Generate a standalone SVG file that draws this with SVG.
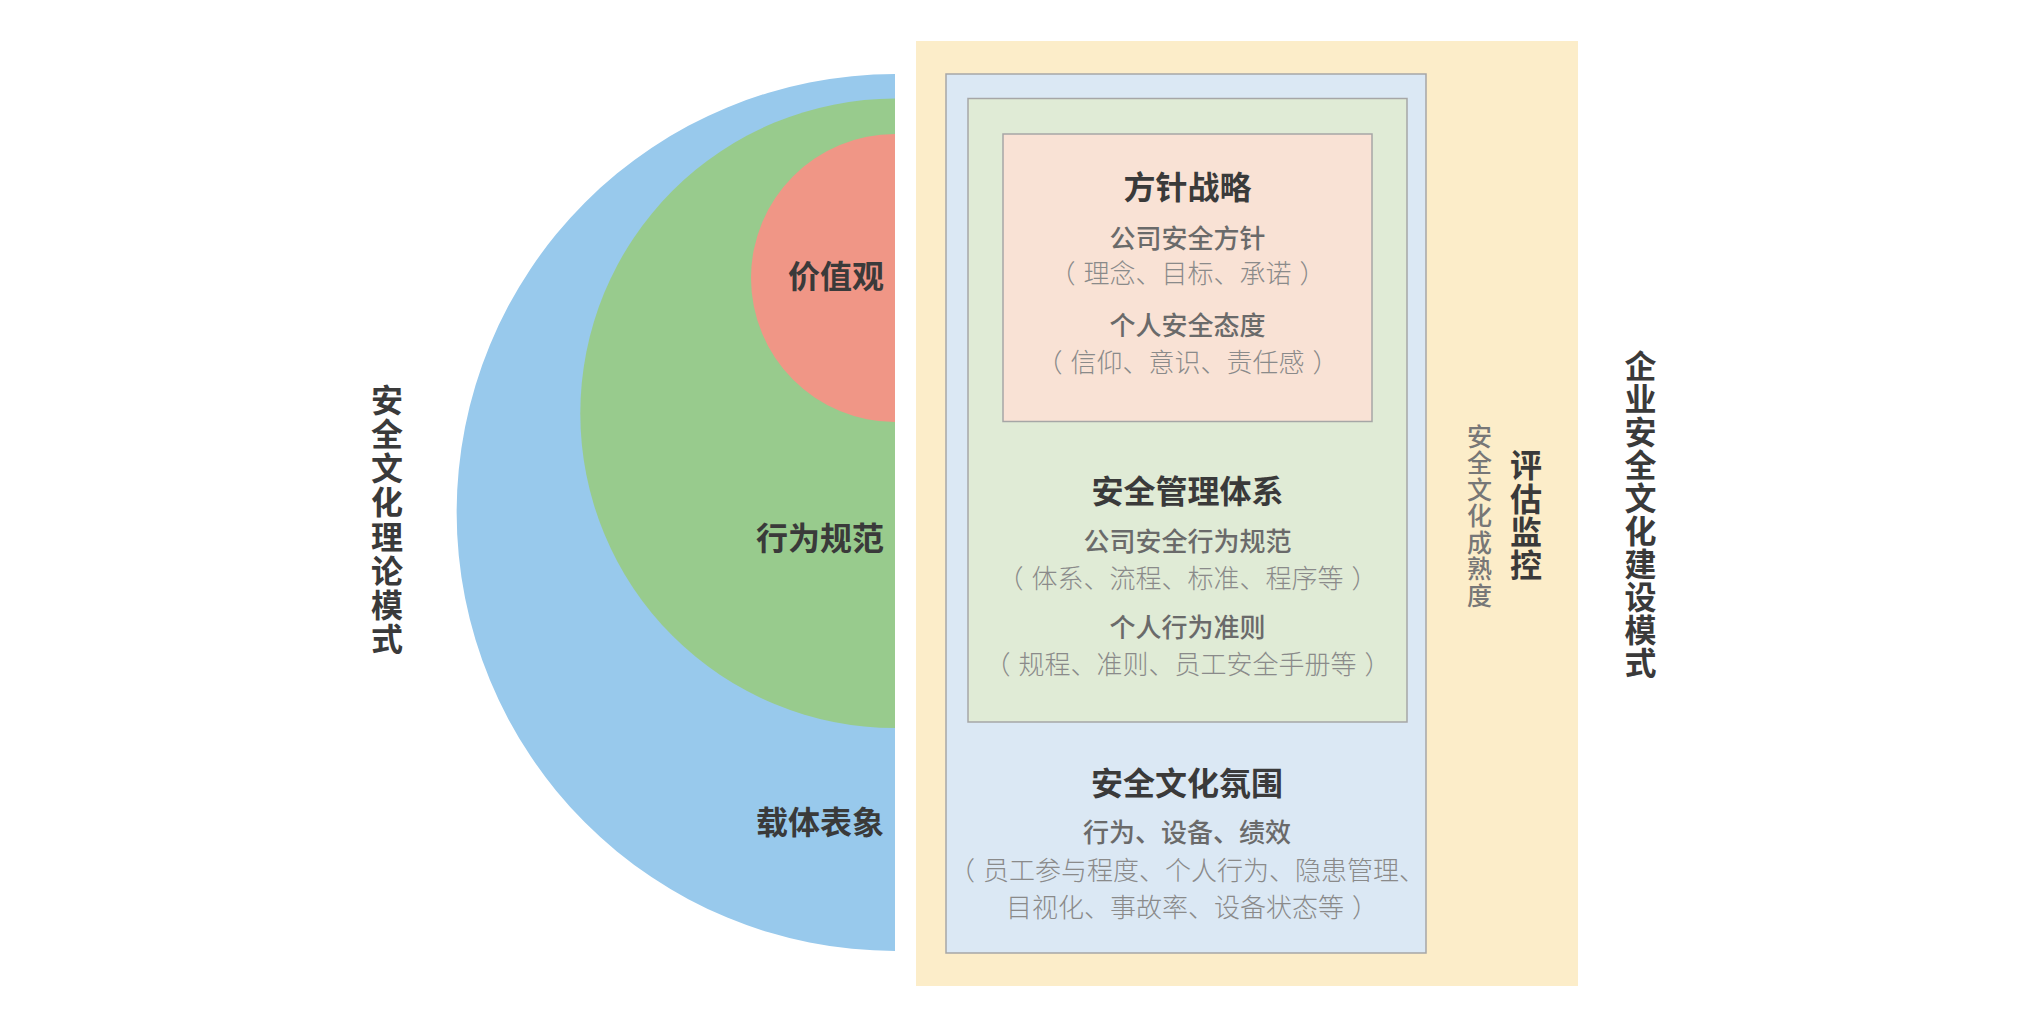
<svg xmlns="http://www.w3.org/2000/svg" width="2030" height="1025" viewBox="0 0 2030 1025">
<style>
text{font-family:"Noto Sans CJK SC","Noto Sans",sans-serif;}
.t{font-size:32px;font-weight:700;fill:#3a3a3a;text-anchor:middle;}
.ring{font-size:32px;font-weight:700;fill:#3a3a3a;text-anchor:end;}
.s{font-size:26px;font-weight:500;fill:#6a6a6a;text-anchor:middle;}
.p{font-size:26px;font-weight:300;fill:#8a8a8a;text-anchor:middle;}
.v{font-size:32px;font-weight:700;fill:#3a3a3a;writing-mode:vertical-rl;text-anchor:start;}
.vg{font-size:25px;font-weight:500;fill:#777777;writing-mode:vertical-rl;text-anchor:start;}
.box{stroke:#a6a6a6;stroke-width:1.5;}
</style>
<rect width="2030" height="1025" fill="#ffffff"/>

<g id="theory-model">
  <g id="outer-ring">
    <path d="M 895 74 A 438.5 438.5 0 0 0 895 951 Z" fill="#98c9ec"/>
    <text class="ring" x="884" y="833.5">载体表象</text>
  </g>
  <g id="middle-ring">
    <path d="M 895 98.6 A 314.7 314.7 0 0 0 895 728 Z" fill="#98cb8d"/>
    <text class="ring" x="884" y="550">行为规范</text>
  </g>
  <g id="inner-ring">
    <path d="M 895 134 A 144 144 0 0 0 895 422 Z" fill="#f09686"/>
    <text class="ring" x="884" y="288">价值观</text>
  </g>
  <g id="theory-label">
    <text class="v" x="387" y="384" letter-spacing="2.1">安全文化理论模式</text>
  </g>
</g>

<g id="construction-model">
  <g id="monitoring">
    <rect x="916" y="41" width="662" height="945" fill="#fcedc9"/>
    <text class="vg" x="1479.5" y="423.5" letter-spacing="1.5">安全文化成熟度</text>
    <text class="v" x="1526" y="449" letter-spacing="1.4">评估监控</text>
  </g>
  <g id="atmosphere">
    <rect class="box" x="946" y="74" width="480" height="879" fill="#dbe8f4"/>
    <text class="t" x="1187" y="795">安全文化氛围</text>
    <text class="s" x="1187" y="842">行为、设备、绩效</text>
    <text class="p" x="1187" y="880">（<tspan dx="8">员工参与程度、个人行为、隐患管理、</tspan></text>
    <text class="p" x="1192" y="916.5">目视化、事故率、设备状态等<tspan dx="8">）</tspan></text>
  </g>
  <g id="management-system">
    <rect class="box" x="968" y="98.5" width="439" height="623.5" fill="#e0ebd6"/>
    <text class="t" x="1187.5" y="503">安全管理体系</text>
    <text class="s" x="1187.5" y="551">公司安全行为规范</text>
    <text class="p" x="1187.5" y="587.5">（<tspan dx="8">体系、流程、标准、程序等</tspan><tspan dx="8">）</tspan></text>
    <text class="s" x="1187.5" y="637">个人行为准则</text>
    <text class="p" x="1187.5" y="674">（<tspan dx="8">规程、准则、员工安全手册等</tspan><tspan dx="8">）</tspan></text>
  </g>
  <g id="strategy">
    <rect class="box" x="1003" y="134" width="369" height="287.5" fill="#f9e2d5"/>
    <text class="t" x="1187.5" y="198.5">方针战略</text>
    <text class="s" x="1187.5" y="247.5">公司安全方针</text>
    <text class="p" x="1187.5" y="283">（<tspan dx="8">理念、目标、承诺</tspan><tspan dx="8">）</tspan></text>
    <text class="s" x="1187.5" y="335">个人安全态度</text>
    <text class="p" x="1187.5" y="371.5">（<tspan dx="8">信仰、意识、责任感</tspan><tspan dx="8">）</tspan></text>
  </g>
  <g id="construction-label">
    <text class="v" x="1640.5" y="350" letter-spacing="1">企业安全文化建设模式</text>
  </g>
</g>

<g id="connectors"></g>
</svg>
